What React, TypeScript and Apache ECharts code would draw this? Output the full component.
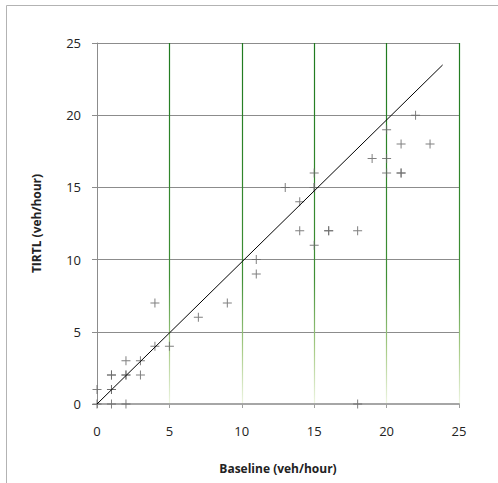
import React, { useEffect, useRef } from "react";
import * as echarts from "echarts";

const xTicks = [0, 5, 10, 15, 20, 25];
const yTicks = [0, 5, 10, 15, 20, 25];
const baseline = [0, 0, 1, 1, 1, 1, 1, 2, 2, 2, 2, 3, 3, 4, 4, 5, 7, 9, 11, 11, 13, 14, 14, 15, 15, 15, 15, 16, 16, 18, 18, 19, 20, 20, 20, 21, 21, 21, 22, 23];
const tirtl = [0, 1, 0, 1, 1, 2, 2, 0, 2, 2, 3, 2, 3, 4, 7, 4, 6, 7, 10, 9, 15, 14, 12, 16, 15, 15, 11, 12, 12, 12, 0, 17, 19, 17, 16, 18, 16, 16, 20, 18];
const trendX = [0, 23.87];
const trendY = [0, 23.48];

const plus = "path://M4,0H5V4H9V5H5V9H4V5H0V4H4Z";

export default function App() {
  const ref = useRef<HTMLDivElement>(null);
  useEffect(() => {
    if (!ref.current) return;
    const chart = echarts.init(ref.current, undefined, { renderer: "svg" });
    const font = "'Open Sans', 'Liberation Sans', sans-serif";
    chart.setOption({
      animation: false,
      backgroundColor: "#fff",
      graphic: [
        {
          type: "rect",
          shape: { x: 6.5, y: 5.5, width: 520, height: 520 },
          style: { fill: "none", stroke: "#b3b3b3", lineWidth: 1 },
          z: -1,
        },
      ],
      grid: { left: 97, right: 39, top: 43, bottom: 79, containLabel: false },
      xAxis: {
        type: "value",
        min: 0,
        max: 25,
        interval: 5,
        name: "Baseline (veh/hour)",
        nameLocation: "middle",
        nameGap: 58,
        nameTextStyle: { fontFamily: font, fontWeight: "bold", fontSize: 12, color: "#222" },
        axisLine: { show: true, onZero: false, lineStyle: { color: "#a6a6a6", width: 2 } },
        axisTick: { show: true, length: 4, lineStyle: { color: "#a0a0a0" } },
        axisLabel: {
          margin: 20,
          fontFamily: font,
          fontSize: 13,
          color: "#222",
          formatter: (v: number) => (xTicks.includes(v) ? String(v) : ""),
        },
        splitLine: {
          show: true,
          showMinLine: false,
          lineStyle: {
            width: 1.2,
            color: {
              type: "linear",
              x: 0,
              y: 43,
              x2: 0,
              y2: 404,
              global: true,
              colorStops: [
                { offset: 0, color: "#1f7a1f" },
                { offset: 0.65, color: "#3f8f35" },
                { offset: 0.85, color: "#a9cc88" },
                { offset: 1, color: "#eef5e2" },
              ],
            },
          },
        },
      },
      yAxis: {
        type: "value",
        min: 0,
        max: 25,
        interval: 5,
        name: "TIRTL (veh/hour)",
        nameLocation: "middle",
        nameGap: 55,
        nameTextStyle: { fontFamily: font, fontWeight: "bold", fontSize: 12, color: "#222" },
        axisLine: { show: true, onZero: false, lineStyle: { color: "#8c8c8c", width: 1 } },
        axisTick: { show: true, length: 5, lineStyle: { color: "#8c8c8c" } },
        axisLabel: {
          margin: 16,
          fontFamily: font,
          fontSize: 13,
          color: "#222",
          formatter: (v: number) => (yTicks.includes(v) ? String(v) : ""),
        },
        splitLine: { show: true, lineStyle: { color: "#8c8c8c", width: 1 } },
      },
      series: [
        {
          type: "scatter",
          data: baseline.map((x, i) => [x, tirtl[i]]),
          symbol: plus,
          symbolSize: 9,
          itemStyle: { color: "#6a6a6a", opacity: 0.85 },
          z: 3,
        },
        {
          type: "line",
          data: trendX.map((x, i) => [x, trendY[i]]),
          symbol: "none",
          lineStyle: { color: "#000", width: 1 },
          z: 4,
        },
      ],
    });
    return () => chart.dispose();
  }, []);
  return (
    <div
      ref={ref}
      style={{ position: "absolute", left: 0, top: 0, width: 498, height: 483 }}
    />
  );
}
